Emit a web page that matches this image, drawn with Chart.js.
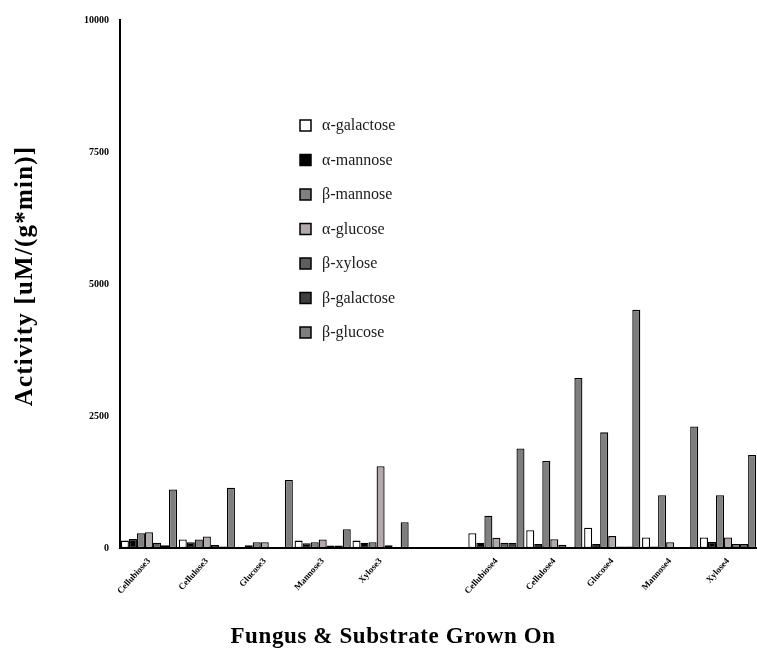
<!DOCTYPE html>
<html>
<head>
<meta charset="utf-8">
<script src="https://cdn.jsdelivr.net/npm/chart.js@4/dist/chart.umd.min.js"></script>
<style>
  body { margin: 0; background: #fff; }
  #wrap { width: 757px; height: 648px; }
</style>
</head>
<body>
<div id="wrap"><canvas id="activity-chart" width="757" height="648"></canvas></div>
<script>
var categories = ['Cellubiose3', 'Cellulose3', 'Glucose3', 'Mannose3', 'Xylose3', '',
  'Cellubiose4', 'Cellulose4', 'Glucose4', 'Mannose4', 'Xylose4'];

var seriesNames = ['\u03b1-galactose', '\u03b1-mannose', '\u03b2-mannose', '\u03b1-glucose',
  '\u03b2-xylose', '\u03b2-galactose', '\u03b2-glucose'];

var alphaGalactose = [140, 160, 15, 140, 140, 0, 280, 335, 385, 200, 200];
var alphaMannose   = [170, 110, 50, 90, 100, 0, 100, 75, 75, 30, 115];
var betaMannose    = [280, 160, 110, 110, 110, 0, 610, 1650, 2190, 1000, 1000];
var alphaGlucose   = [300, 220, 110, 160, 1550, 0, 195, 165, 225, 110, 200];
var betaXylose     = [100, 55, 5, 45, 50, 0, 100, 60, 30, 5, 75];
var betaGalactose  = [50, 30, 5, 45, 20, 0, 100, 20, 30, 5, 75];
var betaGlucose    = [1110, 1140, 1290, 355, 490, 0, 1885, 3220, 4510, 2300, 1760];

var yTicks = [0, 2500, 5000, 7500, 10000];

var xTitle = 'Fungus & Substrate Grown On';
var yTitle = 'Activity [uM/(g*min)]';

var seriesValues = [alphaGalactose, alphaMannose, betaMannose, alphaGlucose,
  betaXylose, betaGalactose, betaGlucose];
var seriesColors = ['#ffffff', '#000000', '#808080', '#b2aaaa', '#5e5e5e', '#3e3e3e', '#7e7e7e'];

var datasets = [];
for (var i = 0; i < seriesNames.length; i++) {
  datasets.push({
    label: seriesNames[i],
    data: seriesValues[i],
    backgroundColor: seriesColors[i],
    borderColor: '#000000',
    borderWidth: 1.3,
    borderSkipped: false,
    barPercentage: 1.0,
    categoryPercentage: 0.97
  });
}

// legend inside the plot + axis titles placed like the original figure
var figureText = {
  id: 'figureText',
  afterDraw: function(chart) {
    var ctx = chart.ctx;
    ctx.save();
    ctx.font = '16px "Liberation Serif", serif';
    ctx.textBaseline = 'middle';
    for (var i = 0; i < chart.data.datasets.length; i++) {
      var ds = chart.data.datasets[i];
      var y = 125 + i * 34.5;
      ctx.fillStyle = ds.backgroundColor;
      ctx.fillRect(300, y - 5, 11, 11);
      ctx.strokeStyle = '#000';
      ctx.lineWidth = 1.5;
      ctx.strokeRect(300, y - 5, 11, 11);
      ctx.fillStyle = '#1a1a1a';
      ctx.fillText(ds.label, 322, y + 1);
    }
    ctx.restore();

    // x axis title
    ctx.save();
    ctx.fillStyle = '#000';
    ctx.font = 'bold 23px "Liberation Serif", serif';
    ctx.letterSpacing = '0.6px';
    ctx.textAlign = 'center';
    ctx.textBaseline = 'alphabetic';
    ctx.fillText(xTitle, 393, 643);
    ctx.restore();

    // y axis title
    ctx.save();
    ctx.fillStyle = '#000';
    ctx.font = 'bold 25px "Liberation Serif", serif';
    ctx.letterSpacing = '1.2px';
    ctx.textAlign = 'center';
    ctx.textBaseline = 'alphabetic';
    ctx.translate(32, 276);
    ctx.rotate(-Math.PI / 2);
    ctx.fillText(yTitle, 0, 0);
    ctx.restore();
  }
};

var ctx = document.getElementById('activity-chart').getContext('2d');
var activityChart = new Chart(ctx, {
  type: 'bar',
  data: { labels: categories, datasets: datasets },
  options: {
    responsive: false,
    animation: false,
    layout: { padding: { top: 20, right: 0, left: 0, bottom: 0 } },
    plugins: {
      legend: { display: false },
      tooltip: { enabled: false }
    },
    scales: {
      x: {
        grid: { display: false, drawTicks: true, tickLength: 6, tickColor: '#000', tickWidth: 1.5 },
        border: { display: true, color: '#000', width: 2 },
        ticks: {
          color: '#000',
          font: { family: '"Liberation Serif", serif', size: 9, weight: 'bold' },
          minRotation: 48,
          maxRotation: 48,
          autoSkip: false,
          padding: 2
        },
        afterFit: function(scale) { scale.height = 100; }
      },
      y: {
        min: 0,
        max: 10000,
        afterBuildTicks: function(scale) {
          scale.ticks = yTicks.map(function(v) { return { value: v }; });
        },
        grid: { display: false, drawTicks: true, tickLength: 7, tickColor: '#000', tickWidth: 1.5 },
        border: { display: true, color: '#000', width: 2 },
        ticks: {
          color: '#000',
          font: { family: '"Liberation Serif", serif', size: 10, weight: 'bold' },
          padding: 4,
          callback: function(value) { return String(value); }
        },
        afterFit: function(scale) { scale.width = 120; }
      }
    }
  },
  plugins: [figureText]
});
</script>
</body>
</html>
